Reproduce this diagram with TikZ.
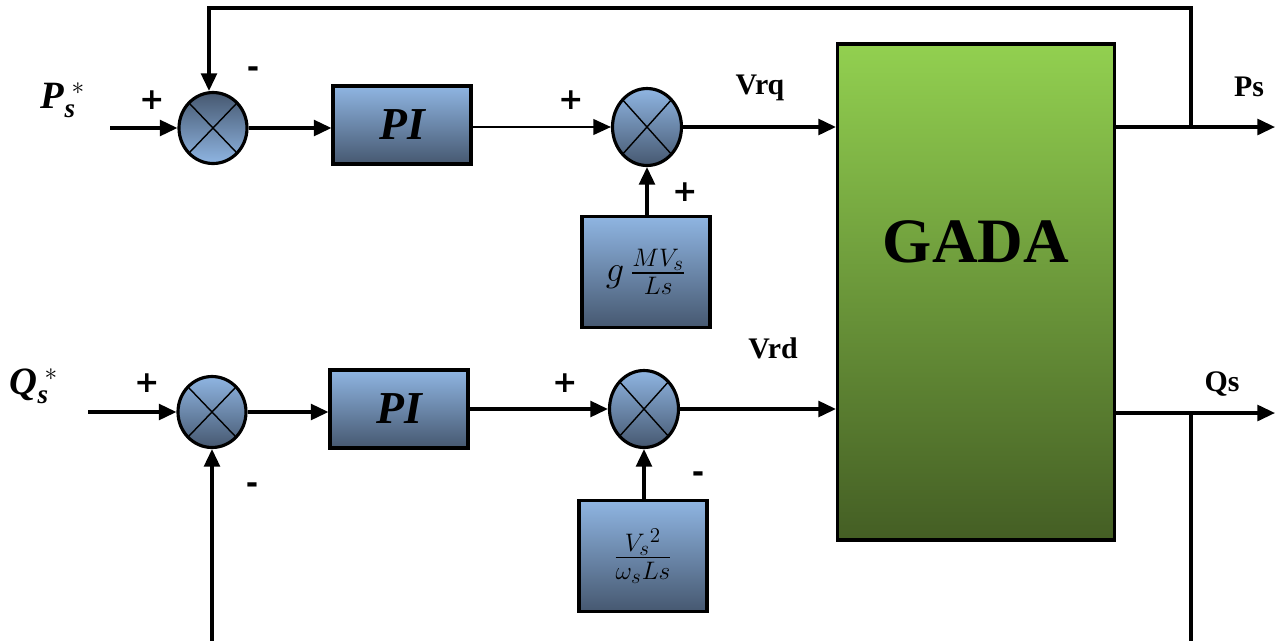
\documentclass[tikz,border=0pt]{standalone}
\usepackage{amsmath}
\usepackage{fontspec}
\setmainfont{Liberation Serif}
\newfontfamily\signfont{DejaVu Sans}
\usetikzlibrary{shapes.geometric, arrows.meta}

\definecolor{bluelt}{RGB}{143,181,226}
\definecolor{bluedk}{RGB}{70,88,112}
\definecolor{greenlt}{RGB}{146,208,80}
\definecolor{greendk}{RGB}{68,94,36}

\begin{document}
\begin{tikzpicture}[x=0.02cm, y=-0.02cm,
    box/.style={draw, line width=1.8pt, top color=bluelt, bottom color=bluedk, minimum width=2.76cm, minimum height=1.56cm, inner sep=0pt},
    gain/.style={box, minimum width=2.56cm, minimum height=2.22cm},
    sum/.style={draw, ellipse, line width=1.8pt, top color=bluelt, bottom color=bluedk, minimum width=1.36cm, minimum height=1.42cm, inner sep=0pt,
        path picture={\draw[line width=0.8pt] (path picture bounding box.north west) -- (path picture bounding box.south east)
                      (path picture bounding box.north east) -- (path picture bounding box.south west);}},
    arr/.style={-{Triangle[length=10pt,width=9pt]}, line width=1.8pt},
    sgn/.style={font=\signfont\bfseries\fontsize{17}{17}\selectfont},
    lbl/.style={font=\fontsize{17}{20}\selectfont\bfseries}]
    \clip (0,0) rectangle (1282,640);
    % top loop (Ps)
    \node[sum, top color=bluedk, bottom color=bluelt] (s1) at (213,128) {};
    \node[box] (pi1) at (402,125) {\fontsize{26}{28}\selectfont\bfseries\itshape PI};
    \node[sum, minimum width=1.38cm, minimum height=1.54cm] (s2) at (647,127) {};
    \node[gain] (g1) at (646,272) {\huge$g\,\frac{MV_s}{Ls}$};
    % bottom loop (Qs)
    \node[sum] (s3) at (212,412) {};
    \node[box] (pi2) at (399,409) {\fontsize{26}{28}\selectfont\bfseries\itshape PI};
    \node[sum, minimum width=1.38cm, minimum height=1.54cm] (s4) at (644,409) {};
    \node[gain] (g2) at (643,556) {\huge$\frac{{V_s}^{2}}{\omega_s Ls}$};
    % machine
    \node[draw, line width=1.8pt, top color=greenlt, bottom color=greendk, minimum width=5.54cm, minimum height=9.92cm] (gada) at (976,292) {};
    \node[font=\fontsize{36}{40}\selectfont\bfseries] (gadat) at (976,242) {GADA};

    \coordinate (pin) at (110,128);
    \coordinate (qin) at (88,412);
    \coordinate (pout) at (1275,127);
    \coordinate (qout) at (1275,413);
    \coordinate (ptap) at (1191,127);
    \coordinate (qtap) at (1191,413);

    \draw[arr] (pin) -- (s1);
    \draw[arr] (s1) -- (s1 -| pi1.west);
    \draw[-{Triangle[length=10pt,width=9pt]}, line width=0.9pt] (pi1.east |- s2) -- (s2);
    \draw[arr] (g1.north -| s2) -- (s2.south);
    \draw[arr] (s2) -- (s2 -| gada.west);
    \draw[arr] (gada.east |- ptap) -- (pout);
    \draw[arr] (ptap) -- (1191,8) -| ([xshift=-0.08cm]s1.north);

    \draw[arr] (qin) -- (s3);
    \draw[arr] (s3) -- (s3 -| pi2.west);
    \draw[arr] (pi2.east |- s4) -- (s4);
    \draw[arr] (g2.north -| s4) -- (s4.south);
    \draw[arr] (s4) -- (s4 -| gada.west);
    \draw[arr] (gada.east |- qtap) -- (qout);
    \draw[arr] (qtap) -- (1191,700) -| (s3.south);

    % labels
    \node[font=\fontsize{22}{24}\selectfont] (pref) at (63,100) {\textbf{\textit{P}}$_{\textbf{\textit{s}}}^{\;*}$};
    \node[font=\fontsize{22}{24}\selectfont] (qref) at (34,386) {\textbf{\textit{Q}}$_{\textbf{\textit{s}}}^{\;*}$};
    \node[lbl] (vrq) at (760,88) {Vrq};
    \node[lbl] (vrd) at (773,348) {Vrd};
    \node[lbl] (ps) at (1249,87) {Ps};
    \node[lbl] (qs) at (1222,384) {Qs};
    \node[sgn] (p1) at (152,100) {+};
    \node[sgn] (m1) at (253,72) {-};
    \node[sgn] (p2) at (571,100) {+};
    \node[sgn] (p3) at (685,192) {+};
    \node[sgn] (p4) at (147,383) {+};
    \node[sgn] (m2) at (252,488) {-};
    \node[sgn] (p5) at (565,383) {+};
    \node[sgn] (m3) at (698,477) {-};
\end{tikzpicture}
\end{document}
